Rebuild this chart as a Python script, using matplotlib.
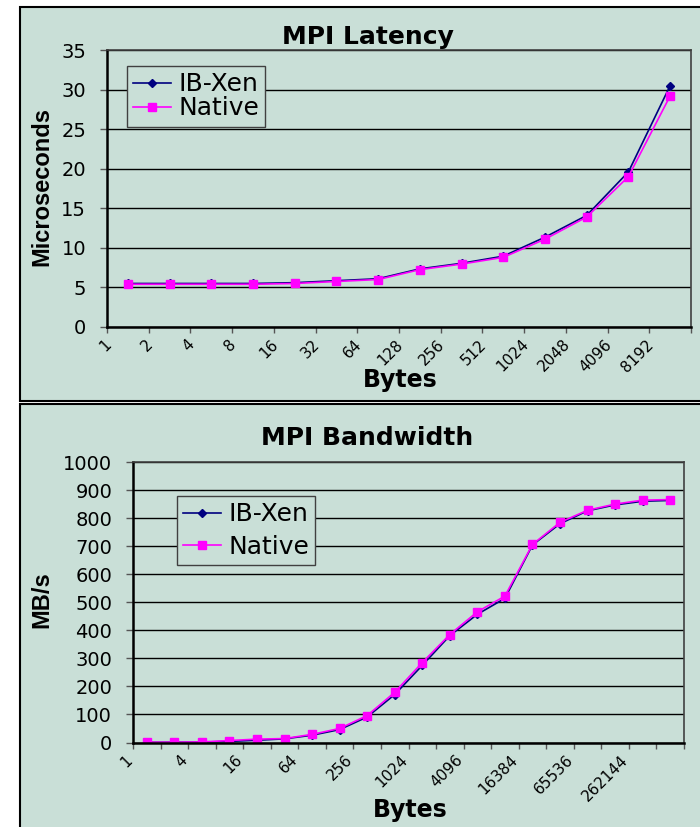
import numpy as np
import matplotlib.pyplot as plt
from matplotlib.patches import Rectangle

# --- data ---
lat_bytes = ['1', '2', '4', '8', '16', '32', '64', '128', '256', '512',
             '1024', '2048', '4096', '8192']
lat_xen = [5.5, 5.5, 5.5, 5.5, 5.6, 5.85, 6.1, 7.35, 8.05, 8.95, 11.35, 14.1, 19.6, 30.5]
lat_native = [5.4, 5.4, 5.4, 5.4, 5.5, 5.75, 6.0, 7.25, 7.95, 8.8, 11.1, 13.9, 19.0, 29.2]

bw_bytes = ['1', '2', '4', '8', '16', '32', '64', '128', '256', '512', '1024',
            '2048', '4096', '8192', '16384', '32768', '65536', '131072',
            '262144', '524288']
bw_xen = [0.5, 1, 1.5, 4, 8, 13, 26, 46, 91, 171, 275, 381, 457, 514, 704,
          780, 826, 847, 860, 863]
bw_native = [1, 1, 2, 7, 12, 14, 29, 50, 96, 179, 285, 385, 466, 522, 706,
             785, 828, 850, 864, 866]

BG = '#C9DFD7'
XEN = '#000080'
NAT = '#FF00FF'
W, H = 700, 827

fig = plt.figure(figsize=(7, 8.27), dpi=100)
fig.patch.set_facecolor('white')


def fx(px):
    return px / W


def fy(py):
    return 1 - py / H


# panel backgrounds (slide-style boxes), kept behind the axes
fig.add_artist(Rectangle((fx(20), fy(401)), 1.0, fy(7) - fy(401),
                         transform=fig.transFigure, fc=BG, ec='black',
                         lw=1.5, zorder=-10))
fig.add_artist(Rectangle((fx(20), fy(840)), 1.0, fy(404) - fy(840),
                         transform=fig.transFigure, fc=BG, ec='black',
                         lw=1.5, zorder=-10))


def draw_chart(box, cats, xen, nat, yticks, title, ylabel, label_step,
               title_y, ylabel_y, xlabel_pos, xoff, legend_box, lspacing):
    ax = fig.add_axes(box)
    ax.set_facecolor(BG)
    x = np.arange(len(cats))
    ax.plot(x, xen, color=XEN, marker='D', ms=4.5, lw=1.2, label='IB-Xen')
    ax.plot(x, nat, color=NAT, marker='s', ms=5.5, lw=1.2, label='Native')

    ax.set_xlim(-0.5, len(cats) - 0.5)
    ax.set_ylim(yticks[0], yticks[-1])
    ax.set_yticks(yticks)
    ax.yaxis.grid(True, color='black', lw=1)
    ax.set_axisbelow(True)

    # tick marks on category boundaries, labels slightly right of them
    ax.set_xticks(np.arange(len(cats) + 1) - 0.5)
    ax.set_xticklabels([])
    pos = [i - 0.5 + xoff for i in range(0, len(cats), label_step)]
    ax.set_xticks(pos, minor=True)
    ax.set_xticklabels(cats[::label_step], minor=True, rotation=45,
                       ha='right', fontsize=11, family='DejaVu Sans')
    ax.tick_params(axis='x', which='minor', length=0, pad=7)

    ax.tick_params(axis='x', which='major', length=4, width=1,
                   color='#555555')
    ax.tick_params(axis='y', length=5, width=1, color='#555555', pad=10,
                   labelsize=14)
    for t in ax.get_yticklabels():
        t.set_family('DejaVu Sans')

    for s in ['left', 'bottom']:
        ax.spines[s].set_color('black')
        ax.spines[s].set_linewidth(1.8)
    for s in ['top', 'right']:
        ax.spines[s].set_color('#404040')
        ax.spines[s].set_linewidth(1.2)

    fig.text(fx(367.5), fy(title_y), title, ha='center', va='baseline',
             fontsize=18, fontweight='bold', family='DejaVu Sans')
    fig.text(fx(42), fy(ylabel_y), ylabel, rotation=90, ha='center',
             va='center', fontsize=17, fontweight='bold',
             family='Liberation Sans')
    fig.text(fx(xlabel_pos[0]), fy(xlabel_pos[1]), 'Bytes', ha='center',
             va='baseline', fontsize=17, fontweight='bold',
             family='DejaVu Sans')

    leg = ax.legend(loc='upper left',
                    bbox_to_anchor=(fx(legend_box[0]), fy(legend_box[1])),
                    bbox_transform=fig.transFigure,
                    prop={'family': 'DejaVu Sans', 'size': 18},
                    frameon=True, fancybox=False, borderaxespad=0,
                    handlelength=1.5, handletextpad=0.3, borderpad=0.25,
                    labelspacing=lspacing)
    leg.get_frame().set_facecolor(BG)
    leg.get_frame().set_edgecolor('#404040')
    leg.get_frame().set_linewidth(1.0)
    leg.get_frame().set_alpha(1)
    return ax


draw_chart([fx(107), fy(327), fx(691) - fx(107), fy(50) - fy(327)],
           lat_bytes, lat_xen, lat_native, list(range(0, 36, 5)),
           'MPI Latency', 'Microseconds', 1, 44, 186, (400, 387), 0.17,
           (127, 66), 0.0)

draw_chart([fx(133), fy(742.5), fx(684) - fx(133), fy(462) - fy(742.5)],
           bw_bytes, bw_xen, bw_native, list(range(0, 1001, 100)),
           'MPI Bandwidth', 'MB/s', 2, 445, 600, (410, 817), 0.08,
           (177, 496), 0.35)

fig.savefig('out.png', dpi=100, facecolor='white')
